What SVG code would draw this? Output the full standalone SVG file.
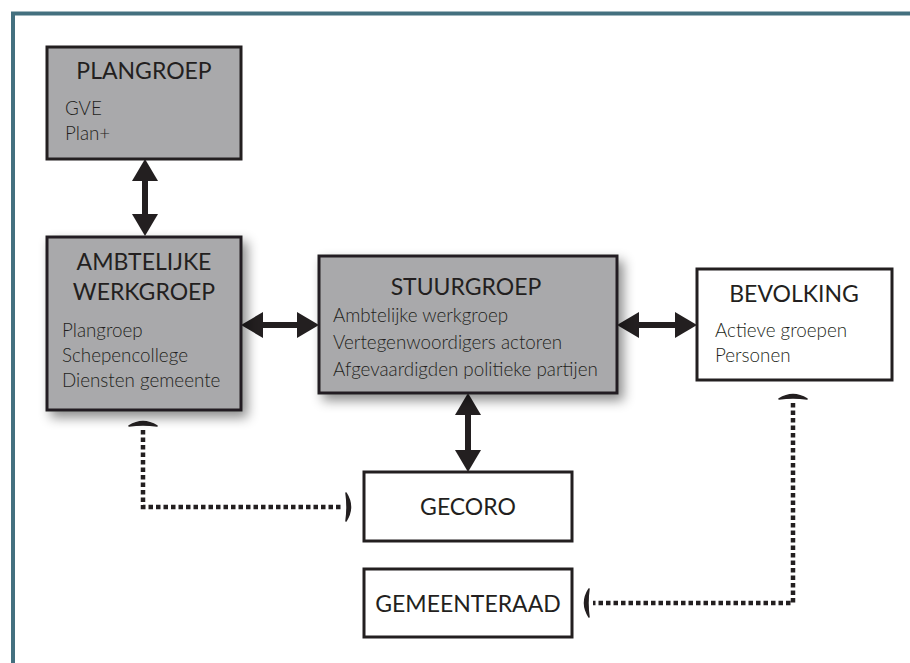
<svg xmlns="http://www.w3.org/2000/svg" width="910" height="663" viewBox="0 0 910 663">
<style>
  .box { stroke: #231f20; stroke-width: 3; }
  .grey { fill: #a9a9ab; }
  .white { fill: #ffffff; }
  .title { font-family: Lato, "Liberation Sans", sans-serif; font-size: 23px; fill: #231f20; text-anchor: middle; }
  .sub { font-family: Lato, "Liberation Sans", sans-serif; font-size: 18.8px; fill: #231f20; font-weight: 300; }
  .solid { stroke: #231f20; stroke-width: 6; fill: none; marker-start: url(#head); marker-end: url(#head); }
  .dotted { stroke: #231f20; stroke-width: 4.5; stroke-dasharray: 4.5 3; fill: none; marker-start: url(#bracket); marker-end: url(#bracket); }
</style>
<defs>
  <marker id="head" viewBox="0 0 22 26" refX="12" refY="13" markerWidth="22" markerHeight="26" markerUnits="userSpaceOnUse" orient="auto-start-reverse">
    <path d="M0,0 L22,13 L0,26 Z" fill="#231f20"/>
  </marker>
  <marker id="bracket" viewBox="-2 -16 18 32" refX="0" refY="0" markerWidth="18" markerHeight="32" markerUnits="userSpaceOnUse" orient="auto-start-reverse" overflow="visible">
    <path d="M4,-14 Q13,0 4,14 Q6,0 4,-14 Z" fill="#231f20" stroke="#231f20" stroke-width="1.5" stroke-linejoin="round"/>
  </marker>
  <filter id="shadow" x="-20%" y="-20%" width="150%" height="150%">
    <feDropShadow dx="5" dy="6" stdDeviation="6" flood-color="#000" flood-opacity="0.45"/>
  </filter>
</defs>
<rect x="0" y="0" width="910" height="663" fill="#ffffff"/>
<g id="frame">
  <path d="M13,663 V13.5 H910" fill="none" stroke="#44707f" stroke-width="4"/>
</g>
<g id="connectors">
  <line class="solid" x1="145" y1="169" x2="145" y2="226"/>
  <line class="solid" x1="251" y1="325" x2="309" y2="325"/>
  <line class="solid" x1="627" y1="325" x2="687" y2="325"/>
  <line class="solid" x1="468" y1="403" x2="468" y2="462"/>
  <path class="dotted" d="M143,430 V507 H342"/>
  <path class="dotted" d="M793,403 V603 H593"/>
</g>
<g id="plangroep">
  <rect class="box grey" x="47" y="47" width="194" height="112"/>
  <text class="title" x="144" y="79">PLANGROEP</text>
  <text class="sub" x="65" y="115">GVE</text>
  <text class="sub" x="65" y="140">Plan+</text>
</g>
<g id="ambtelijke-werkgroep">
  <rect class="box grey" x="47" y="237" width="194" height="173" filter="url(#shadow)"/>
  <text class="title" x="144" y="270">AMBTELIJKE</text>
  <text class="title" x="144" y="300">WERKGROEP</text>
  <text class="sub" x="62" y="337">Plangroep</text>
  <text class="sub" x="62" y="362">Schepencollege</text>
  <text class="sub" x="62" y="387">Diensten gemeente</text>
</g>
<g id="stuurgroep">
  <rect class="box grey" x="319" y="256" width="298" height="137" filter="url(#shadow)"/>
  <text class="title" x="466" y="295">STUURGROEP</text>
  <text class="sub" x="333" y="322">Ambtelijke werkgroep</text>
  <text class="sub" x="333" y="349">Vertegenwoordigers actoren</text>
  <text class="sub" x="333" y="376">Afgevaardigden politieke partijen</text>
</g>
<g id="bevolking">
  <rect class="box white" x="697" y="269" width="195" height="111"/>
  <text class="title" x="794" y="302">BEVOLKING</text>
  <text class="sub" x="715" y="337">Actieve groepen</text>
  <text class="sub" x="715" y="362">Personen</text>
</g>
<g id="gecoro">
  <rect class="box white" x="364" y="472" width="208" height="69"/>
  <text class="title" x="468" y="515">GECORO</text>
</g>
<g id="gemeenteraad">
  <rect class="box white" x="364" y="569" width="208" height="68"/>
  <text class="title" x="468" y="612">GEMEENTERAAD</text>
</g>
</svg>
